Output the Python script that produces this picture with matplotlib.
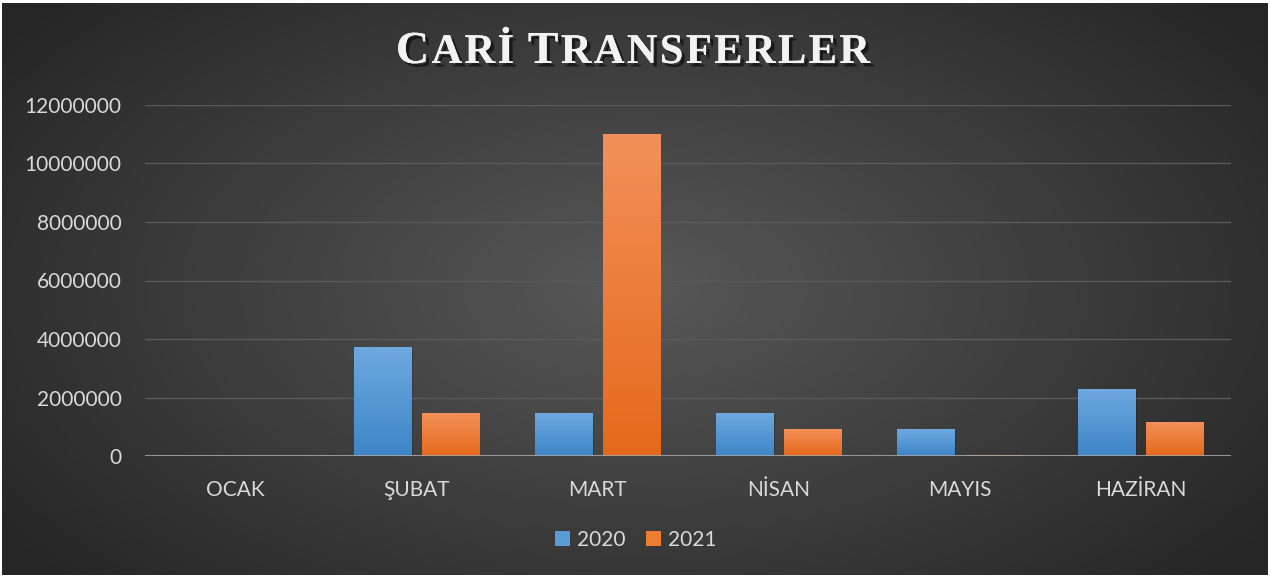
import numpy as np
import matplotlib
matplotlib.use("Agg")
import matplotlib.pyplot as plt
from matplotlib import patheffects as pe
from matplotlib.patches import Patch
from matplotlib.colors import LinearSegmentedColormap

# ---- data ----
categories = ["OCAK", "ŞUBAT", "MART", "NİSAN", "MAYIS", "HAZİRAN"]
series_names = ["2020", "2021"]
values_2020 = [0, 3720000, 1440000, 1470000, 920000, 2290000]
values_2021 = [0, 1470000, 11000000, 920000, 30000, 1160000]
yticks = [0, 2000000, 4000000, 6000000, 8000000, 10000000, 12000000]
title_parts = [("C", True), ("ARİ", False), (" ", False), ("T", True), ("RANSFERLER", False)]

W, H, DPI = 1271, 577, 100
fig = plt.figure(figsize=(W / DPI, H / DPI), dpi=DPI, facecolor="white")

# background radial gradient
bg = fig.add_axes([2 / W, 2 / H, 1 - 5 / W, 1 - 5 / H], zorder=-10)
bg.set_axis_off()
yy, xx = np.mgrid[0:1:300j, 0:1:600j]
r = np.sqrt(((xx - 0.5) / 0.62) ** 2 + ((yy - 0.5) / 0.75) ** 2)
r = np.clip(r, 0, 1)
c0 = np.array([0x58, 0x58, 0x58]) / 255
c1 = np.array([0x26, 0x26, 0x26]) / 255
img = c0[None, None, :] * (1 - r[..., None]) + c1[None, None, :] * r[..., None]
bg.imshow(img, extent=[0, 1, 0, 1], aspect="auto", origin="lower")

ax = fig.add_axes([145 / W, 1 - 456 / H, (1231 - 145) / W, (456 - 105) / H])
ax.set_facecolor("none")
for s in ax.spines.values():
    s.set_visible(False)

x = np.arange(len(categories))
bw = 0.315
off = 0.1875
blue_cmap = LinearSegmentedColormap.from_list("b", ["#3d85c6", "#6ea9e0"])
orange_cmap = LinearSegmentedColormap.from_list("o", ["#e5691b", "#f39059"])

b1 = ax.bar(x - off, values_2020, bw, color="#5b9bd5", zorder=2, label=series_names[0])
b2 = ax.bar(x + off, values_2021, bw, color="#ed7d31", zorder=2, label=series_names[1])

ax.set_ylim(0, 12000000)
ax.set_xlim(-0.5, len(categories) - 0.5)

for bars, cmap in ((b1, blue_cmap), (b2, orange_cmap)):
    for p in bars.patches:
        h = p.get_height()
        if h <= 0:
            continue
        x0 = p.get_x()
        w = p.get_width()
        g = np.linspace(0, 1, 256).reshape(-1, 1)
        ax.imshow(g, cmap=cmap, extent=[x0, x0 + w, 0, h], aspect="auto",
                  origin="lower", zorder=3, vmin=0, vmax=1)
        p.set_alpha(0)
        ax.bar(x0 + w / 2 + 0.008, h, w, bottom=-60000, color="black", alpha=0.18, zorder=1.5)

ax.set_xlim(-0.5, len(categories) - 0.5)
ax.set_ylim(0, 12000000)

ax.set_yticks(yticks)
ax.set_yticklabels([str(v) for v in yticks])
ax.set_xticks(x)
ax.set_xticklabels(categories)
ax.grid(axis="y", color="#5a5a5a", linewidth=1.0, zorder=0)
ax.axhline(0, color="#a6a6a6", linewidth=2.2, alpha=0.85, zorder=4)
ax.tick_params(axis="both", length=0, colors="#d9d9d9", labelsize=15)
ax.tick_params(axis="y", pad=17)
ax.tick_params(axis="x", pad=17)
for lab in ax.get_xticklabels() + ax.get_yticklabels():
    lab.set_family(["Lato", "DejaVu Sans"])
    lab.set_color("#d9d9d9")

handles = [Patch(facecolor="#5b9bd5", label=series_names[0]),
           Patch(facecolor="#ed7d31", label=series_names[1])]
leg = fig.legend(handles=handles, loc="center", bbox_to_anchor=(636 / W, 1 - 540 / H), ncol=2,
                 frameon=False, handlelength=0.7, handleheight=0.7,
                 handletextpad=0.35, columnspacing=1.0,
                 prop={"family": ["Lato", "DejaVu Sans"], "size": 15})
for t in leg.get_texts():
    t.set_color("#d9d9d9")

# ---- title with small caps, letter-spaced ----
renderer = fig.canvas.get_renderer()
big, small = 33, 30.5
shadow = [pe.withSimplePatchShadow(offset=(2.5, -2.5), shadow_rgbFace="black", alpha=0.55), pe.Normal()]
chars = []
for s, is_big in title_parts:
    for ch in s:
        chars.append((ch, big if is_big else small))
texts, widths = [], []
for ch, fs in chars:
    t = fig.text(0, 0, ch, fontsize=fs, fontweight="bold",
                 family=["Liberation Serif", "DejaVu Serif"], color="#f2f2f2",
                 ha="left", va="baseline", path_effects=shadow)
    texts.append(t)
    bb = t.get_window_extent(renderer=renderer)
    widths.append(bb.width if ch != " " else 9)
target_w = 474
spacing = (target_w - sum(widths)) / (len(widths) - 1)
cx = 633
xpos = cx - target_w / 2
base_y = H - 63
for t, w in zip(texts, widths):
    t.set_position((xpos / W, base_y / H))
    xpos += w + spacing

fig.savefig("out.png", dpi=DPI, facecolor=fig.get_facecolor())
